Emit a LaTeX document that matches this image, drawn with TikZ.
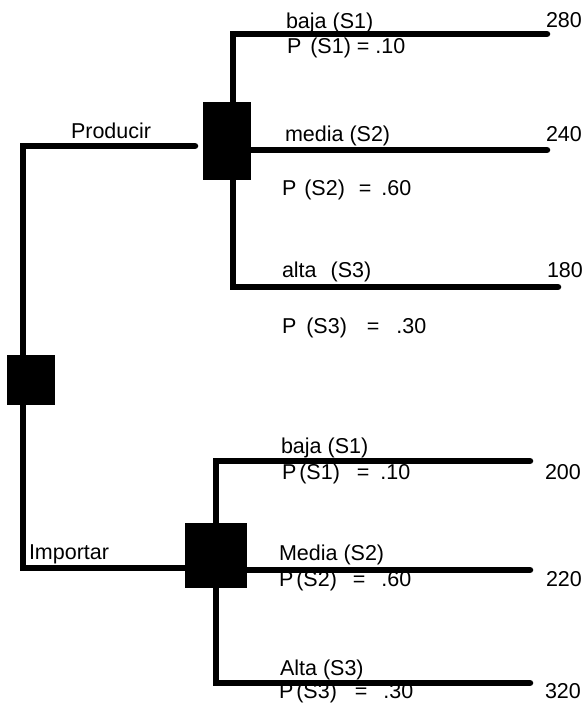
\documentclass[tikz,border=0pt]{standalone}
\usepackage{fontspec}
\setmainfont{Liberation Sans}
\begin{document}
\begin{tikzpicture}[x=1pt,y=-1pt,
  branch/.style={line width=6.5pt, line cap=round, line join=miter},
  decbox/.style={fill=black, draw=none, inner sep=0pt, outer sep=0pt},
  lbl/.style={anchor=base west, inner sep=0pt, outer sep=0pt, font=\fontsize{21.5}{21.5}\selectfont}]
\useasboundingbox (0,0) rectangle (587,709);
% decision / chance boxes
\node[decbox, minimum width=48pt, minimum height=50pt] (root) at (31,380) {};
\node[decbox, minimum width=48pt, minimum height=78pt] (prod) at (227,141) {};
\node[decbox, minimum width=62pt, minimum height=65pt] (imp) at (216,555.5) {};
% coordinates
\coordinate (pL) at (195,146);
\coordinate (c1) at (23,146);
\coordinate (c2) at (23,568);
\coordinate (t1) at (233,34);
\coordinate (t1e) at (547,34);
\coordinate (t2e) at (547,150);
\coordinate (t3) at (233,287);
\coordinate (t3e) at (558,287);
\coordinate (b1) at (216,461);
\coordinate (b1e) at (530,461);
\coordinate (b2e) at (530,570);
\coordinate (b3) at (216,683);
\coordinate (b3e) at (530,683);
% connectors
\draw[branch] (pL) -- (c1) -- (c2) -- (imp.west |- c2);
\draw[branch] (t1e) -- (t1) -- (t3) -- (t3e);
\draw[branch] (prod.east |- t2e) -- (t2e);
\draw[branch] (b1e) -- (b1) -- (b3) -- (b3e);
\draw[branch] (imp.east |- b2e) -- (b2e);
% labels
\node[lbl] (lp) at (71,138) {Producir};
\node[lbl] (li) at (29,559) {Importar};
\node[lbl] (s1) at (286,29) {baja (S1)};
\node[lbl] (v1) at (546,28) {280};
\node[lbl] (p1) at (287,53) {P\hspace{3pt} (S1) = .10};
\node[lbl] (s2) at (285,141) {media (S2)};
\node[lbl] (v2) at (546,141) {240};
\node[lbl] (p2) at (282,195) {P\hspace{2pt} (S2)\hspace{8pt} =\hspace{4pt} .60};
\node[lbl] (s3) at (282,277) {alta\hspace{8pt} (S3)};
\node[lbl] (v3) at (547,277) {180};
\node[lbl] (p3) at (282,333) {P\hspace{4pt} (S3)\hspace{14pt} =\hspace{11pt} .30};
\node[lbl] (s4) at (281,453) {baja (S1)};
\node[lbl] (p4) at (282,479) {P\hspace{3pt}(S1)\hspace{11pt} =\hspace{5pt} .10};
\node[lbl] (v4) at (545,479) {200};
\node[lbl] (s5) at (279,560) {Media (S2)};
\node[lbl] (p5) at (279,586) {P\hspace{3pt}(S2)\hspace{10pt} =\hspace{10pt} .60};
\node[lbl] (v5) at (546,586) {220};
\node[lbl] (s6) at (280,675) {Alta (S3)};
\node[lbl] (p6) at (279,698) {P\hspace{3pt}(S3)\hspace{12pt} =\hspace{10pt} .30};
\node[lbl] (v6) at (545,698) {320};
\end{tikzpicture}
\end{document}
